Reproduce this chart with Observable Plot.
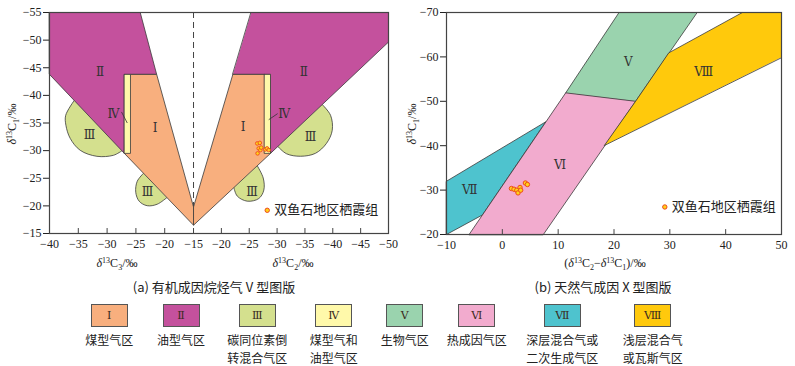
<!DOCTYPE html>
<html><head><meta charset="utf-8">
<script src="https://cdn.jsdelivr.net/npm/d3@7"></script>
<script src="https://cdn.jsdelivr.net/npm/@observablehq/plot@0.6"></script>
<style>
body{margin:0;background:#fff;}
#wrap{position:relative;width:795px;height:366px;overflow:hidden;font-family:"Noto Sans CJK SC",sans-serif;color:#222}
.pl{position:absolute;top:0}
.lg-box{position:absolute;box-sizing:border-box;border:1px solid #555;display:flex;align-items:center;justify-content:center;font-family:"DejaVu Serif",serif;font-size:11px;color:#3a2a20}
.lg-txt{position:absolute;font-size:12px;height:15px;line-height:15px;text-align:center;white-space:nowrap;transform:translateX(-50%)}
</style></head><body>
<div id="wrap"><div id="pa" class="pl" style="left:0"></div><div id="pb" class="pl" style="left:400px"></div></div>
<script>
// ================= Panel (a): V-type chart =================
const c1TicksA = [-55, -50, -45, -40, -35, -30, -25, -20, -15];
const c3Ticks = [-40, -35, -30, -25, -20, -15];          // left half: δ13C3
const c2TicksA = [-20, -25, -30, -35, -40, -45, -50];    // right half: δ13C2
// left half vertices: [δ13C3, δ13C1]
const zoneII_L = [[-40, -55], [-24.25, -55], [-21.4, -43.8], [-27, -43.8], [-27, -29.5], [-40, -43.8]];
const zoneI_L = [[-25.94, -43.8], [-21.4, -43.8], [-15, -19.8], [-15, -16.5], [-27, -29.5]];
const zoneIV_L = [[-27, -43.8], [-25.94, -43.8], [-25.94, -29.5], [-27, -29.5]];
const zoneIIIbig_L = [[-35.71, -39.08], [-37.19, -36.39], [-37.15, -34.58], [-36.41, -32.23], [-34.67, -30.06], [-31.77, -28.97], [-28.89, -29.16], [-27.43, -29.97]];
const zoneIIIsmall_L = [[-23.68, -25.9], [-24.77, -24.46], [-25.03, -22.47], [-24.43, -20.84], [-23.04, -20.03], [-21.3, -20.3], [-19.62, -21.5]];
// right half vertices: [δ13C2, δ13C1]
const zoneII_R = [[-25.36, -55], [-50, -55], [-50, -49.65], [-28.82, -29.5], [-28.82, -43.8], [-22.06, -43.8]];
const zoneI_R = [[-27.75, -43.8], [-22.06, -43.8], [-15, -19.8], [-15, -16.5], [-28.82, -29.5]];
const zoneIV_R = [[-27.75, -43.8], [-28.82, -43.8], [-28.82, -29.5], [-27.75, -29.5]];
const zoneIIIbig_R = [[-38.11, -38.34], [-39.6, -36.39], [-39.9, -33.68], [-38.88, -31.33], [-36.9, -29.52], [-34.2, -28.98], [-31.7, -29.43], [-30.13, -30.75]];
const zoneIIIsmall_R = [[-26.44, -27.26], [-27.51, -25.05], [-27.62, -22.86], [-26.72, -21.33], [-24.64, -20.85], [-22.85, -21.77], [-22.24, -23.31]];
const vApex = [-15, -19.8];
// samples (Shuangyushi, Qixia Fm.)
const samplesA_C2 = [-26.44, -26.9, -26.7, -27.0, -27.15, -26.5, -27.9, -28.2, -28.5];
const samplesA_C1 = [-31.3, -31.4, -30.4, -30.1, -30.55, -29.5, -30.2, -30.4, -30.1];
// zone labels
const labelsA_L = [{t: "Ⅱ", x: -31.2, y: -44.2}, {t: "Ⅳ", x: -28.9, y: -36.6}, {t: "Ⅰ", x: -21.65, y: -34.0}, {t: "Ⅲ", x: -33.05, y: -32.8}, {t: "Ⅲ", x: -23.0, y: -22.5}];
const labelsA_R = [{t: "Ⅱ", x: -34.8, y: -44.2}, {t: "Ⅳ", x: -31.3, y: -36.6}, {t: "Ⅰ", x: -23.9, y: -34.3}, {t: "Ⅲ", x: -36.0, y: -32.5}, {t: "Ⅲ", x: -25.5, y: -22.5}];
const leaderL = [[-27.5, -37.0, -26.5, -35.0]];
const leaderR = [[-30.1, -36.7, -28.5, -35.6]];
const sampleKeyA = {x: -28.23, y: -19.2};

// ================= Panel (b): X-type chart =================
const diffTicks = [-10, 0, 10, 20, 30, 40, 50];
const c1TicksB = [-70, -60, -50, -40, -30, -20];
// vertices: [δ13C2-δ13C1, δ13C1]
const zoneVII = [[-10, -32.0], [7.8, -45.4], [-3.56, -24.4], [-10, -20]];
const zoneVI = [[-5.95, -20], [11.35, -51.9], [23.87, -50.0], [7.35, -20]];
const zoneV = [[11.35, -51.9], [20.9, -70], [34.9, -70], [23.87, -50.0]];
const zoneVIII = [[18.3, -40.1], [23.87, -50], [29.8, -60.9], [43, -70], [50, -70], [50, -59.9]];
const samplesB_diff = [1.63, 2.09, 2.58, 2.81, 3.17, 3.29, 4.13, 4.49];
const samplesB_C1 = [-30.36, -30.2, -29.98, -29.37, -30.59, -29.98, -31.6, -31.26];
const labelsB = [{t: "Ⅴ", x: 22.56, y: -58.87}, {t: "Ⅷ", x: 36.08, y: -56.6}, {t: "Ⅵ", x: 10.32, y: -35.6}, {t: "Ⅶ", x: -5.83, y: -29.98}];
const sampleKeyB = {x: 29.1, y: -26.2};

// ================= Legend =================
const legendCodes = ["Ⅰ", "Ⅱ", "Ⅲ", "Ⅳ", "Ⅴ", "Ⅵ", "Ⅶ", "Ⅷ"];
const legendNames = [["煤型气区"], ["油型气区"], ["碳同位素倒", "转混合气区"], ["煤型气和", "油型气区"], ["生物气区"], ["热成因气区"], ["深层混合气或", "二次生成气区"], ["浅层混合气", "或瓦斯气区"]];
const legendColors = ["#F8AF7E", "#C4519D", "#D4E08E", "#FFF9AA", "#9AD3AE", "#F2ABCE", "#4EC3CE", "#FFC90C"];
const sampleName = "双鱼石地区栖霞组";

// ---------------- helpers ----------------
const col = Object.fromEntries(legendCodes.map((c, i) => [c, legendColors[i]]));
const fmt = v => (v < 0 ? "\u2212" + (-v) : String(v));
// the mirrored right half (δ13C2) is drawn slightly compressed in the source figure
const rightSqueeze = 0.967;
const u2 = v => -15 + (-15 - v) * rightSqueeze;   // δ13C2 -> plotting coordinate
const inv2 = u => -15 - (u + 15) / rightSqueeze;
const uTicks = c3Ticks.concat(c2TicksA.map(u2));
const lineStroke = "#3a3a3a";
const romanFont = "DejaVu Serif";

function poly(pts, fill, fx = d => d[0]) {
  return Plot.line(pts, {x: fx, y: d => d[1], fill, stroke: lineStroke, strokeWidth: 0.8, curve: "linear-closed"});
}
function lobe(pts, fill, fx = d => d[0]) {
  return Plot.line(pts, {x: fx, y: d => d[1], fill, stroke: lineStroke, strokeWidth: 0.8, curve: "catmull-rom"});
}
const R = d => u2(d[0]);
const baseStyle = {fontFamily: "Liberation Serif", fontSize: "12px", color: "#222", background: "transparent", overflow: "visible"};

function richText(svg, x, y, parts, rotate) {
  const t = d3.select(svg).append("text").attr("x", x).attr("y", y)
    .attr("text-anchor", "middle").attr("font-family", "Liberation Serif")
    .attr("font-size", 12).attr("fill", "#222");
  if (rotate) t.attr("transform", `rotate(-90,${x},${y})`);
  let shift = 0;
  for (const p of parts) {
    const target = p.sup ? -4 : p.sub ? 3 : 0;
    const ts = t.append("tspan").text(p.t).attr("dy", target - shift);
    shift = target;
    if (p.sup || p.sub) ts.attr("font-size", 8);
    if (p.i) ts.attr("font-style", "italic");
  }
}
function caption(svg, x, y, s) {
  d3.select(svg).append("text").attr("x", x).attr("y", y).attr("text-anchor", "middle")
    .attr("font-family", "Noto Sans CJK SC").attr("font-size", 13).attr("fill", "#222").text(s);
}
const dC = (n) => [{t: "δ", i: 1}, {t: "13", sup: 1}, {t: "C"}, {t: String(n), sub: 1}];

// ---------------- Panel (a) ----------------
const sampA = samplesA_C2.map((x, i) => ({x, y: samplesA_C1[i]}));
const svgA = Plot.plot({
  width: 400, height: 300,
  marginLeft: 49, marginRight: 12, marginTop: 12, marginBottom: 67,
  x: {domain: [-40, u2(-50)], ticks: uTicks, tickSize: 0, tickPadding: 6,
      tickFormat: u => fmt(Math.round(u <= -15 ? u : inv2(u))), label: null},
  y: {domain: [-15, -55], ticks: c1TicksA, tickSize: 6, tickPadding: 2, tickFormat: fmt, label: null},
  style: baseStyle,
  marks: [
    lobe(zoneIIIbig_L, col["Ⅲ"]), lobe(zoneIIIsmall_L, col["Ⅲ"]),
    lobe(zoneIIIbig_R, col["Ⅲ"], R), lobe(zoneIIIsmall_R, col["Ⅲ"], R),
    poly(zoneII_L, col["Ⅱ"]), poly(zoneII_R, col["Ⅱ"], R),
    poly(zoneI_L, col["Ⅰ"]), poly(zoneI_R, col["Ⅰ"], R),
    poly(zoneIV_L, col["Ⅳ"]), poly(zoneIV_R, col["Ⅳ"], R),
    Plot.ruleX([vApex[0]], {y1: -55, y2: vApex[1], stroke: "#444", strokeWidth: 1, strokeDasharray: "6,4"}),
    Plot.ruleX(uTicks, {x: d => d, y1: -15, y2: -15.9, stroke: "#444"}),
    Plot.link(leaderL, {x1: d => d[0], y1: d => d[1], x2: d => d[2], y2: d => d[3], stroke: "#333", strokeWidth: 0.8}),
    Plot.link(leaderR, {x1: d => u2(d[0]), y1: d => d[1], x2: d => u2(d[2]), y2: d => d[3], stroke: "#333", strokeWidth: 0.8}),
    Plot.text(labelsA_L, {x: "x", y: "y", text: "t", fontFamily: romanFont, fontSize: 12, fill: "#333"}),
    Plot.text(labelsA_R, {x: d => u2(d.x), y: "y", text: "t", fontFamily: romanFont, fontSize: 12, fill: "#333"}),
    Plot.dot(sampA, {x: d => u2(d.x), y: "y", r: 1.8, fill: "#FFD21A", stroke: "#EE4A1C", strokeWidth: 0.9}),
    Plot.dot([sampleKeyA], {x: d => u2(d.x), y: "y", r: 2.2, fill: "#FFD21A", stroke: "#EE4A1C", strokeWidth: 1}),
    Plot.text([sampleKeyA], {x: d => u2(d.x), y: "y", text: () => sampleName, dx: 7, textAnchor: "start", fontFamily: "Noto Sans CJK SC", fontSize: 13, fill: "#222"}),
    Plot.frame({stroke: "#444", strokeWidth: 1.2})
  ]
});
document.getElementById("pa").appendChild(svgA);
richText(svgA, 16, 124, dC(1).concat([{t: "/‰"}]), true);
richText(svgA, 117, 267, dC(3).concat([{t: "/‰"}]));
richText(svgA, 293, 267, dC(2).concat([{t: "/‰"}]));
caption(svgA, 214, 292, "(a) 有机成因烷烃气 V 型图版");

// ---------------- Panel (b) ----------------
const sampB = samplesB_diff.map((x, i) => ({x, y: samplesB_C1[i]}));
const svgB = Plot.plot({
  width: 395, height: 300,
  marginLeft: 46, marginRight: 14, marginTop: 12, marginBottom: 66,
  x: {domain: [-10, 50], ticks: diffTicks, tickSize: 0, tickPadding: 6, tickFormat: fmt, label: null},
  y: {domain: [-20, -70], ticks: c1TicksB, tickSize: 6, tickPadding: 2, tickFormat: fmt, label: null},
  style: baseStyle,
  marks: [
    poly(zoneVII, col["Ⅶ"]),
    poly(zoneV, col["Ⅴ"]),
    poly(zoneVI, col["Ⅵ"]),
    poly(zoneVIII, col["Ⅷ"]),
    Plot.ruleX(diffTicks, {x: d => d, y1: -20, y2: -21.1, stroke: "#444"}),
    Plot.text(labelsB, {x: "x", y: "y", text: "t", fontFamily: romanFont, fontSize: 12, fill: "#333"}),
    Plot.dot(sampB, {x: "x", y: "y", r: 2.2, fill: "#FFD21A", stroke: "#EE4A1C", strokeWidth: 1}),
    Plot.dot([sampleKeyB], {x: "x", y: "y", r: 2.2, fill: "#FFD21A", stroke: "#EE4A1C", strokeWidth: 1}),
    Plot.text([sampleKeyB], {x: "x", y: "y", text: () => sampleName, dx: 7, textAnchor: "start", fontFamily: "Noto Sans CJK SC", fontSize: 13, fill: "#222"}),
    Plot.frame({stroke: "#444", strokeWidth: 1.2})
  ]
});
document.getElementById("pb").appendChild(svgB);
richText(svgB, 16, 124, dC(1).concat([{t: "/‰"}]), true);
richText(svgB, 205, 267, [{t: "("}].concat(dC(2), [{t: "\u2212"}], dC(1), [{t: ")/‰"}]));
caption(svgB, 203, 292, "(b) 天然气成因 X 型图版");

// ---------------- Legend ----------------
const boxCenters = [109.3, 181, 257.3, 333.8, 404.7, 476.7, 562.3, 652.7];
const wrap = document.getElementById("wrap");
legendCodes.forEach((c, i) => {
  const b = document.createElement("div");
  b.className = "lg-box";
  b.style.left = (boxCenters[i] - 18.5) + "px";
  b.style.top = "304px";
  b.style.width = "37px";
  b.style.height = "23px";
  b.style.background = legendColors[i];
  b.textContent = c;
  wrap.appendChild(b);
  legendNames[i].forEach((line, j) => {
    const t = document.createElement("div");
    t.className = "lg-txt";
    t.style.left = boxCenters[i] + "px";
    t.style.top = (332 + j * 17.5) + "px";
    t.textContent = line;
    wrap.appendChild(t);
  });
});
</script>
</body></html>
